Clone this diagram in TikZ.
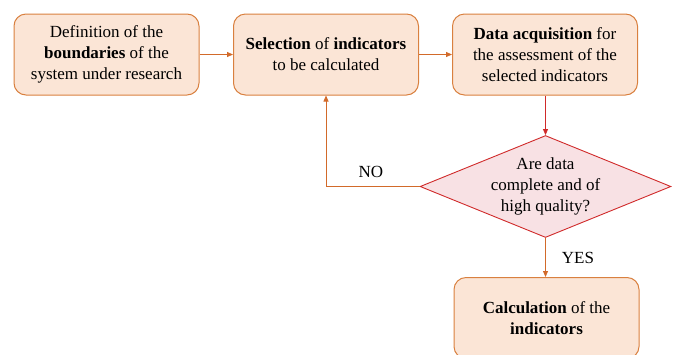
\documentclass[tikz,border=0pt]{standalone}
\usepackage{fontspec}
\setmainfont{Liberation Serif}
\usetikzlibrary{shapes.geometric,arrows.meta}
\definecolor{boxfill}{HTML}{FBE5D6}
\definecolor{boxline}{HTML}{D9803F}
\definecolor{dfill}{HTML}{F8E1E4}
\definecolor{dline}{HTML}{D02A2A}
\definecolor{arr}{HTML}{D26A2A}
\begin{document}
\begin{tikzpicture}[x=1pt,y=-1pt,
  procbox/.style={draw=boxline,fill=boxfill,line width=1pt,rounded corners=12pt,
    minimum width=185pt,minimum height=81pt,inner sep=2pt,align=center,
    font=\fontsize{17}{21}\selectfont},
  decide/.style={draw=dline,fill=dfill,line width=0.9pt,diamond,
    minimum width=249pt,minimum height=101pt,inner sep=0pt,aspect=2.46,align=center,
    font=\fontsize{17}{21}\selectfont},
  flow/.style={draw=arr,line width=0.8pt,-{Triangle[length=6pt,width=5pt]}},
  lbl/.style={font=\fontsize{17}{21}\selectfont,inner sep=0pt}]
\useasboundingbox (0,0) rectangle (676,354);
\node[procbox] (b1) at (106.5,54.5) {Definition of the\\\textbf{boundaries} of the\\system under research};
\node[procbox] (b2) at (326,54.5) {\textbf{Selection} of \textbf{indicators}\\to be calculated};
\node[procbox] (b3) at (545,54.5) {\textbf{Data acquisition} for\\the assessment of the\\selected indicators};
\node[decide] (d) at (545.5,186.5) {Are data\\complete and of\\high quality?};
\node[procbox] (b4) at (546.5,318) {\textbf{Calculation} of the\\\textbf{indicators}};
\draw[flow] (b1) -- (b2);
\draw[flow] (b2) -- (b3);
\draw[flow,draw=dline,-{Triangle[length=6pt,width=5pt,fill=dline]}] (b3.south -| d.north) -- (d.north);
\draw[flow] (d.west) -| (b2.south) node[lbl,pos=0.26,above=8pt] {NO};
\draw[flow] (d.south) -- (d.south |- b4.north) node[lbl,pos=0.5,right=16pt] {YES};
\end{tikzpicture}
\end{document}
